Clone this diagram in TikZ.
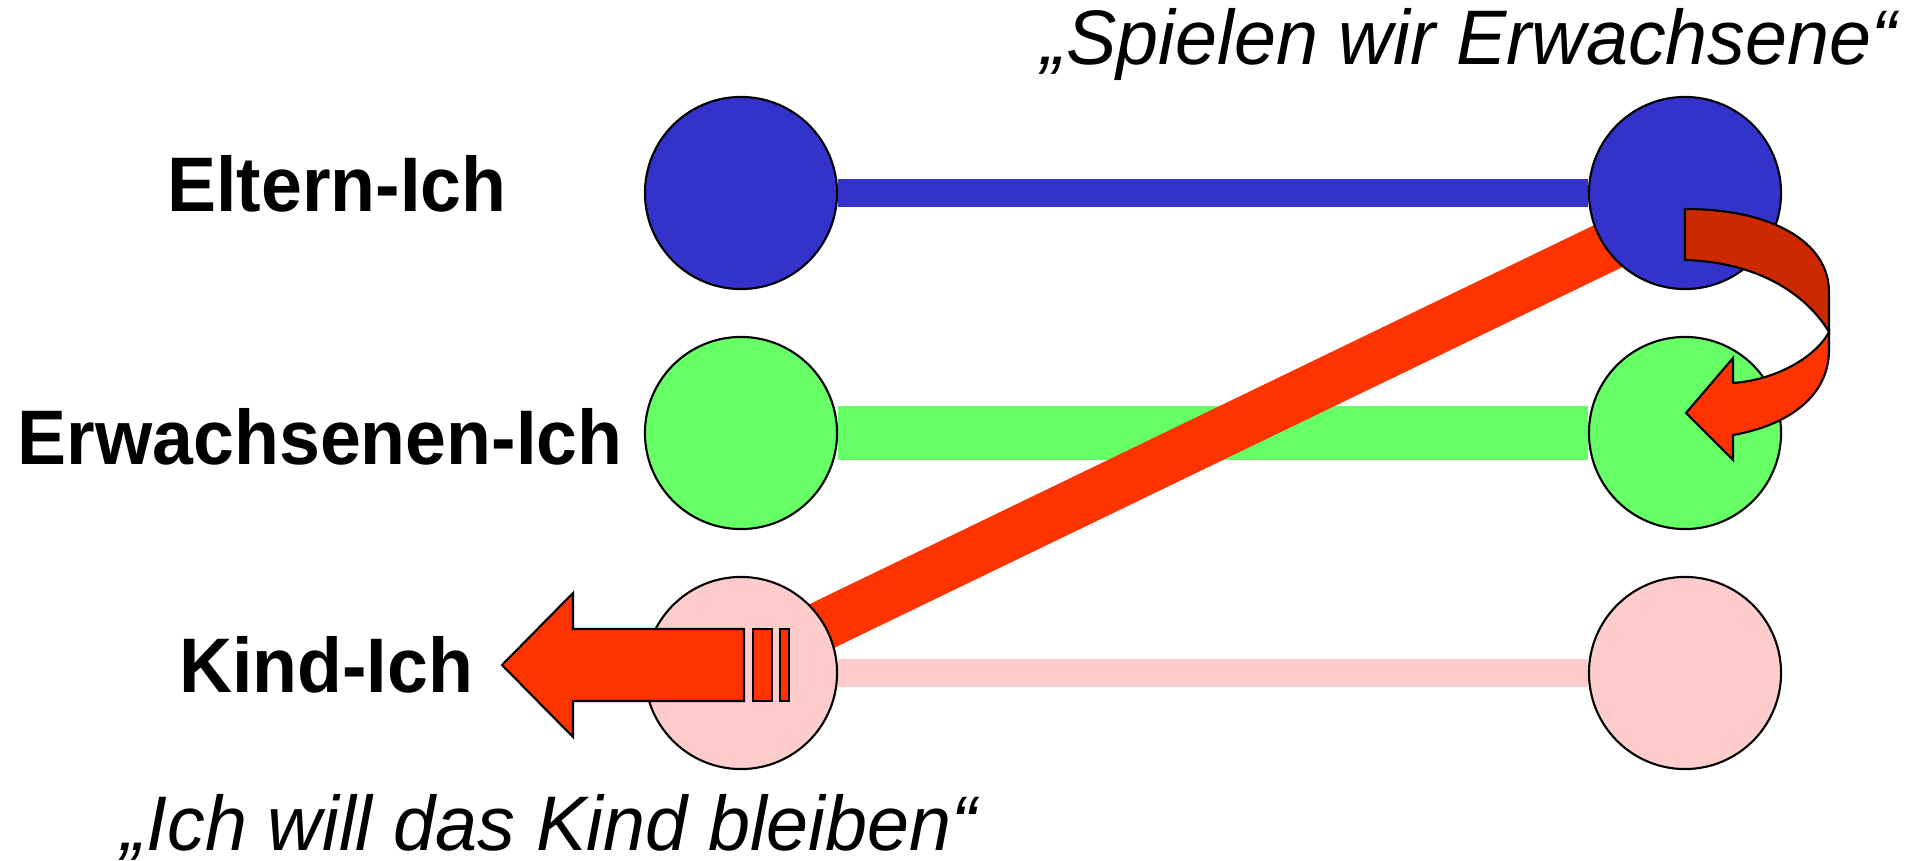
\documentclass[tikz,border=0pt]{standalone}
\usepackage{fontspec}
\setmainfont{Liberation Sans}[FakeStretch=0.95]
\newfontfamily\quotefont{Liberation Sans}[FakeStretch=0.975]
\usetikzlibrary{backgrounds}
\definecolor{ichblue}{RGB}{51,51,204}
\definecolor{ichgreen}{RGB}{102,255,102}
\definecolor{ichpink}{RGB}{255,204,204}
\definecolor{pfeilrot}{RGB}{255,51,0}
\definecolor{pfeildunkel}{RGB}{204,41,0}

\begin{document}
\begin{tikzpicture}[x=0.01cm, y=-0.01cm,
    ich/.style={draw, circle, minimum size=1.92cm, inner sep=0pt, line width=0.6pt},
    ichlabel/.style={anchor=base, inner sep=0pt, font=\bfseries\fontsize{22pt}{26pt}\selectfont},
    spruch/.style={anchor=base, inner sep=0pt, font=\quotefont\itshape\fontsize{22pt}{26pt}\selectfont},
    pfeil/.style={draw, fill=pfeilrot, line width=0.6pt, line join=miter}]
    \useasboundingbox (0,0) rectangle (1921,861);

    \node (elternL) [ich, fill=ichblue] at (741,193) {};
    \node (elternR) [ich, fill=ichblue] at (1685,193) {};
    \node (erwachsenL) [ich, fill=ichgreen] at (741,433) {};
    \node (erwachsenR) [ich, fill=ichgreen] at (1685,433) {};
    \node (kindL) [ich, fill=ichpink] at (741,673) {};
    \node (kindR) [ich, fill=ichpink] at (1685,673) {};

    \node (eltern) [ichlabel] at (337,212) {Eltern-Ich};
    \node (erwachsen) [ichlabel] at (320,465) {Erwachsenen-Ich};
    \node (kind) [ichlabel] at (326,692) {Kind-Ich};
    \node (spielen) [spruch] at (1469,65) {„Spielen wir Erwachsene“};
    \node (bleiben) [spruch] at (549,850) {„Ich will das Kind bleiben“};

    \begin{pgfonlayer}{background}
    \draw[ichblue, line width=0.27cm] (elternL) -- (elternR);
    \draw[ichgreen, line width=0.53cm] (erwachsenL) -- (erwachsenR);
    \draw[ichpink, line width=0.27cm] (kindL) -- (kindR);
    \coordinate (bandA) at (741,665);
    \coordinate (bandB) at (1685,209);
    \draw[pfeilrot, line width=0.5cm] (bandA) -- (bandB);
    \end{pgfonlayer}

    % block arrow
    \draw[pfeil] (744,629) -- (573,629) -- (573,593) -- (502,665) -- (573,737) -- (573,701) -- (744,701) -- cycle;
    \draw[pfeil] (753,629) rectangle (772,701);
    \draw[pfeil] (780,629) rectangle (789,701);

    % curved arrow
    \draw[pfeil, fill=pfeildunkel] (1685,209) .. controls (1772,209) and (1829,242) .. (1829,292) -- (1829,332) .. controls (1805,292) and (1755,262) .. (1685,260) -- cycle;
    \draw[pfeil] (1829,332) .. controls (1815,358) and (1775,380) .. (1733,383) -- (1733,358) -- (1686,413) -- (1733,460) -- (1733,435) .. controls (1790,425) and (1829,395) .. (1829,350) -- cycle;
\end{tikzpicture}
\end{document}
